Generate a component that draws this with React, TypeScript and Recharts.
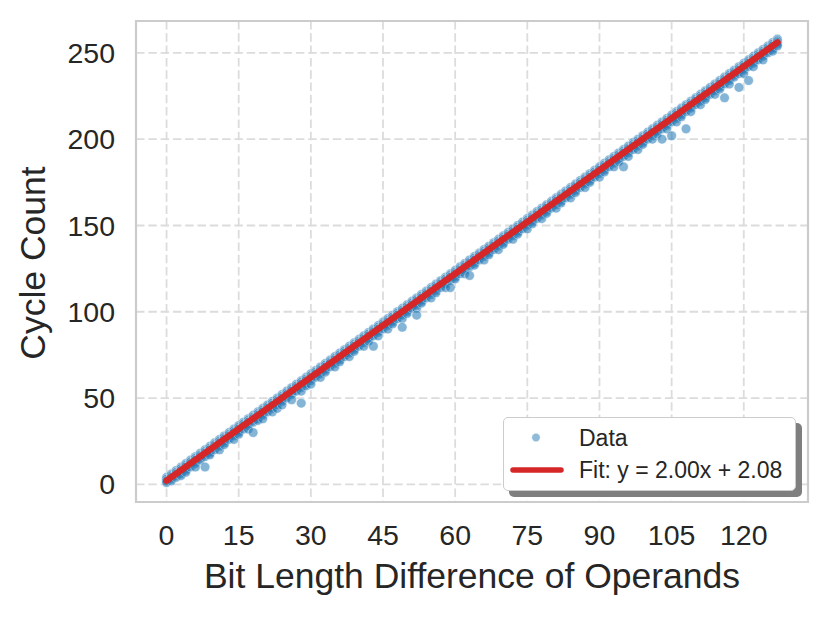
import React from "react";
import { ScatterChart, Scatter, XAxis, YAxis, CartesianGrid, ReferenceArea } from "recharts";

// bit length difference of the two operands (x)
const BIT_DIFF = [
  0, 1, 2, 3, 4, 5, 6, 7, 8, 9, 10, 11, 12, 13, 14, 15, 16, 17, 18, 19,
  20, 21, 22, 23, 24, 25, 26, 27, 28, 29, 30, 31, 32, 33, 34, 35, 36, 37, 38, 39,
  40, 41, 42, 43, 44, 45, 46, 47, 48, 49, 50, 51, 52, 53, 54, 55, 56, 57, 58, 59,
  60, 61, 62, 63, 64, 65, 66, 67, 68, 69, 70, 71, 72, 73, 74, 75, 76, 77, 78, 79,
  80, 81, 82, 83, 84, 85, 86, 87, 88, 89, 90, 91, 92, 93, 94, 95, 96, 97, 98, 99,
  100, 101, 102, 103, 104, 105, 106, 107, 108, 109, 110, 111, 112, 113, 114, 115,
  116, 117, 118, 119, 120, 121, 122, 123, 124, 125, 126, 127,
];

// observed cycle counts for each bit difference (same order as BIT_DIFF)
const CYCLES: number[][] = [
  [4, 3, 2, 1], [6, 5, 4, 3, 2], [8, 7, 6, 5, 4], [10, 9, 8, 7, 6, 5],
  [12, 11, 10, 9, 8, 7], [14, 13, 12, 11, 10], [16, 15, 14, 13, 12, 10], [18, 17, 16, 15, 14],
  [20, 19, 18, 17, 16, 10], [22, 21, 20, 19, 18, 17], [24, 23, 22, 21, 20], [26, 25, 24, 23, 22, 20],
  [28, 27, 26, 25, 24, 23], [30, 29, 28, 27, 26], [32, 31, 30, 29, 28, 26], [34, 33, 32, 31, 30, 29],
  [36, 35, 34, 33, 32], [38, 37, 36, 35, 34, 32], [40, 39, 38, 37, 36, 30], [42, 41, 40, 39, 38, 37],
  [44, 43, 42, 41, 40, 38], [46, 45, 44, 43, 42], [48, 47, 46, 45, 44, 42], [50, 49, 48, 47, 46, 44],
  [52, 51, 50, 49, 48, 46], [54, 53, 52, 51, 50], [56, 55, 54, 53, 52, 49], [58, 57, 56, 55, 54],
  [60, 59, 58, 57, 56, 54, 47], [62, 61, 60, 59, 58, 57], [64, 63, 62, 61, 60, 58], [66, 65, 64, 63, 62],
  [68, 67, 66, 65, 64, 62], [70, 69, 68, 67, 66, 65], [72, 71, 70, 69, 68], [74, 73, 72, 71, 70, 68],
  [76, 75, 74, 73, 72, 71], [78, 77, 76, 75, 74], [80, 79, 78, 77, 76, 74], [82, 81, 80, 79, 78, 77],
  [84, 83, 82, 81, 80], [86, 85, 84, 83, 82, 80], [88, 87, 86, 85, 84, 83], [90, 89, 88, 87, 86, 80],
  [92, 91, 90, 89, 88, 86], [94, 93, 92, 91, 90], [96, 95, 94, 93, 92, 90], [98, 97, 96, 95, 94, 93],
  [100, 99, 98, 97, 96], [102, 101, 100, 99, 98, 96, 91], [104, 103, 102, 101, 100, 99], [106, 105, 104, 103, 102],
  [108, 107, 106, 105, 104, 102, 98], [110, 109, 108, 107, 106, 105], [112, 111, 110, 109, 108], [114, 113, 112, 111, 110, 108],
  [116, 115, 114, 113, 112, 111], [118, 117, 116, 115, 114], [120, 119, 118, 117, 116, 114], [122, 121, 120, 119, 118, 114],
  [124, 123, 122, 121, 120, 119], [126, 125, 124, 123, 122], [128, 127, 126, 125, 124, 122], [130, 129, 128, 127, 126, 121],
  [132, 131, 130, 129, 128, 127], [134, 133, 132, 131, 130], [136, 135, 134, 133, 132, 130], [138, 137, 136, 135, 134, 133],
  [140, 139, 138, 137, 136], [142, 141, 140, 139, 138, 136], [144, 143, 142, 141, 140, 139], [146, 145, 144, 143, 142],
  [148, 147, 146, 145, 144, 142], [150, 149, 148, 147, 146, 145], [152, 151, 150, 149, 148], [154, 153, 152, 151, 150, 148],
  [156, 155, 154, 153, 152, 151], [158, 157, 156, 155, 154], [160, 159, 158, 157, 156, 154], [162, 161, 160, 159, 158, 157],
  [164, 163, 162, 161, 160], [166, 165, 164, 163, 162, 160], [168, 167, 166, 165, 164, 163], [170, 169, 168, 167, 166],
  [172, 171, 170, 169, 168, 166], [174, 173, 172, 171, 170, 169], [176, 175, 174, 173, 172], [178, 177, 176, 175, 174, 172],
  [180, 179, 178, 177, 176, 175], [182, 181, 180, 179, 178], [184, 183, 182, 181, 180, 178], [186, 185, 184, 183, 182, 181],
  [188, 187, 186, 185, 184], [190, 189, 188, 187, 186, 184], [192, 191, 190, 189, 188, 187], [194, 193, 192, 191, 190, 184],
  [196, 195, 194, 193, 192, 190], [198, 197, 196, 195, 194], [200, 199, 198, 197, 196, 194], [202, 201, 200, 199, 198, 197],
  [204, 203, 202, 201, 200], [206, 205, 204, 203, 202, 200], [208, 207, 206, 205, 204, 203], [210, 209, 208, 207, 206, 200],
  [212, 211, 210, 209, 208, 206], [214, 213, 212, 211, 210, 202], [216, 215, 214, 213, 212, 210], [218, 217, 216, 215, 214, 213],
  [220, 219, 218, 217, 216, 206], [222, 221, 220, 219, 218, 216], [224, 223, 222, 221, 220], [226, 225, 224, 223, 222, 220],
  [228, 227, 226, 225, 224, 223], [230, 229, 228, 227, 226], [232, 231, 230, 229, 228, 226], [234, 233, 232, 231, 230, 229],
  [236, 235, 234, 233, 232, 224], [238, 237, 236, 235, 234, 232], [240, 239, 238, 237, 236], [242, 241, 240, 239, 238, 230],
  [244, 243, 242, 241, 240, 238], [246, 245, 244, 243, 242, 234], [248, 247, 246, 245, 244, 242], [250, 249, 248, 247, 246],
  [252, 251, 250, 249, 248, 246], [254, 253, 252, 251, 250], [256, 255, 254, 253, 252, 251], [258, 257, 256, 255, 254],
];

// fitted line endpoints: y = 2.00x + 2.08
const FIT_X = [0, 127];
const FIT_Y = [2.08, 256.08];

const X_TICKS = [0, 15, 30, 45, 60, 75, 90, 105, 120];
const Y_TICKS = [0, 50, 100, 150, 200, 250];

const FONT = "'Liberation Sans', Arial, Helvetica, sans-serif";
const TEXT = "#262626";
const BLUE = "#1f77b4";
const RED = "#d62728";

const X_DOMAIN: [number, number] = [-6.35, 133.35];
const Y_DOMAIN: [number, number] = [-10.25, 268.5];

const points = BIT_DIFF.flatMap((d, i) => CYCLES[i].map((c) => ({ x: d, y: c })));
const fitLine = FIT_X.map((x, i) => ({ x, y: FIT_Y[i] }));

const Dot = (props: any) => (
  <circle
    cx={props.cx}
    cy={props.cy}
    r={4.8}
    fill={BLUE}
    fillOpacity={0.55}
    stroke="#ffffff"
    strokeOpacity={0.5}
    strokeWidth={0.8}
  />
);

const NoDot = () => <g />;

export default function App() {
  const tickStyle = { fontSize: 28.5, fill: TEXT, fontFamily: FONT };
  return (
    <div style={{ position: "absolute", left: 0, top: 0, width: 830, height: 618, background: "#fff" }}>
      <ScatterChart width={830} height={618} margin={{ top: 21, right: 22, bottom: 0, left: 0 }}>
        <CartesianGrid stroke="#dcdcdc" strokeWidth={1.8} strokeDasharray="8.5 3.8" />
        <XAxis
          type="number"
          dataKey="x"
          domain={X_DOMAIN}
          allowDataOverflow
          ticks={X_TICKS}
          height={116}
          tickLine={false}
          axisLine={false}
          tickSize={0}
          tickMargin={23}
          tick={tickStyle}
          label={{ value: "Bit Length Difference of Operands", position: "insideBottom", offset: 30, fontSize: 35.5, fill: TEXT, fontFamily: FONT }}
        />
        <YAxis
          type="number"
          dataKey="y"
          domain={Y_DOMAIN}
          allowDataOverflow
          ticks={Y_TICKS}
          width={136}
          tickLine={false}
          axisLine={false}
          tickSize={0}
          tickMargin={21}
          tick={tickStyle}
        />
        <ReferenceArea
          x1={X_DOMAIN[0]}
          x2={X_DOMAIN[1]}
          y1={Y_DOMAIN[0]}
          y2={Y_DOMAIN[1]}
          fill="none"
          fillOpacity={0}
          stroke="#cccccc"
          strokeWidth={2.2}
        />
        <Scatter name="Data" data={points} shape={Dot} isAnimationActive={false} />
        <Scatter
          name="Fit"
          data={fitLine}
          fill={RED}
          line={{ stroke: RED, strokeWidth: 6.5, strokeLinecap: "round" }}
          shape={NoDot}
          isAnimationActive={false}
        />
      </ScatterChart>

      <div
        style={{
          position: "absolute",
          left: 33,
          top: 262.5,
          transform: "translate(-50%, -50%) rotate(-90deg)",
          fontFamily: FONT,
          fontSize: 35.5,
          color: TEXT,
          whiteSpace: "nowrap",
        }}
      >
        Cycle Count
      </div>

      <div
        style={{
          position: "absolute",
          left: 503,
          top: 417,
          width: 291,
          height: 72,
          background: "#fff",
          border: "1.5px solid #cccccc",
          borderRadius: 5,
          boxShadow: "6px 6px 0 0 #7f7f7f",
          fontFamily: FONT,
          fontSize: 23,
          color: TEXT,
        }}
      >
        <svg width={70} height={72} style={{ position: "absolute", left: 0, top: 0 }}>
          <circle cx={32} cy={19.5} r={4.2} fill={BLUE} fillOpacity={0.5} stroke="#fff" strokeOpacity={0.5} strokeWidth={0.8} />
          <line x1={9} y1={52} x2={57} y2={52} stroke={RED} strokeWidth={5.5} strokeLinecap="round" />
        </svg>
        <div style={{ position: "absolute", left: 75, top: 19.5, transform: "translateY(-50%)", whiteSpace: "nowrap" }}>Data</div>
        <div style={{ position: "absolute", left: 75, top: 52, transform: "translateY(-50%)", whiteSpace: "nowrap" }}>
          Fit: y = 2.00x + 2.08
        </div>
      </div>
    </div>
  );
}
